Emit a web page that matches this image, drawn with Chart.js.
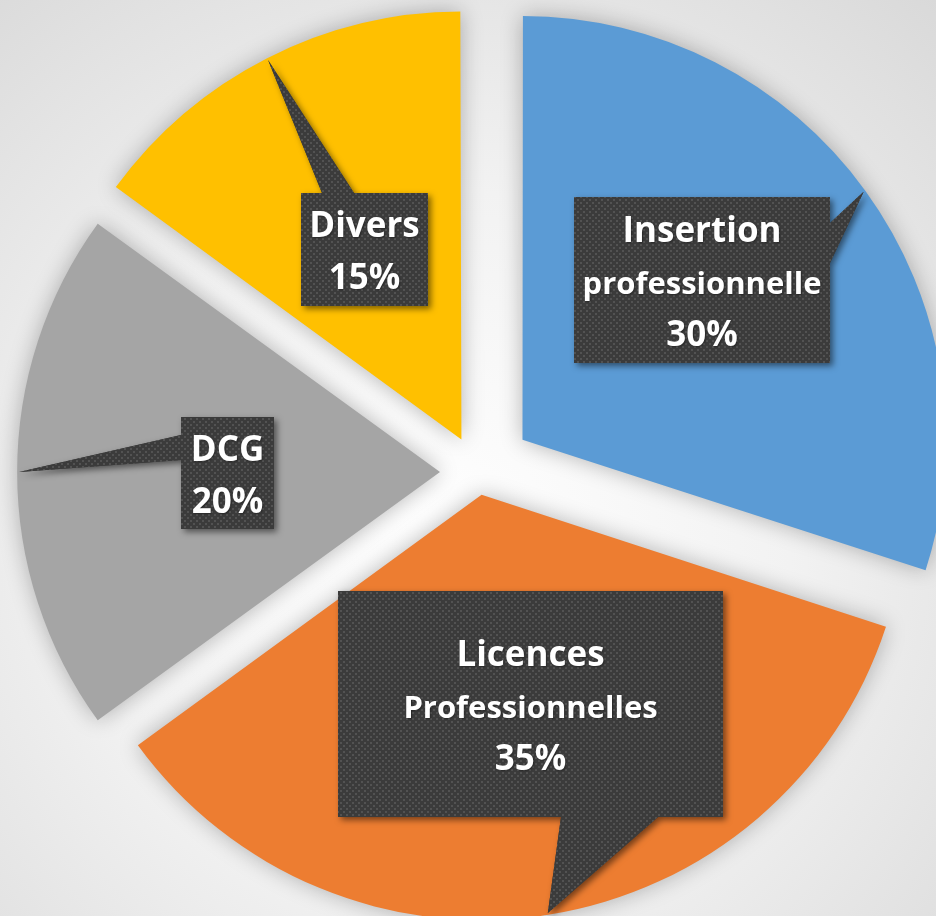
<!DOCTYPE html>
<html>
<head>
<meta charset="utf-8">
<script src="https://cdn.jsdelivr.net/npm/chart.js@4.4.1/dist/chart.umd.min.js"></script>
<style>
  html, body { margin: 0; padding: 0; background: #ececec; }
  #wrap { width: 936px; height: 916px; position: relative; }
  canvas { display: block; }
</style>
</head>
<body>
<div id="wrap"><canvas id="c" width="936" height="916"></canvas></div>
<script>
// ---- data ----
const categories = ['Insertion professionnelle', 'Licences Professionnelles', 'DCG', 'Divers'];
const labelLines = [['Insertion', 'professionnelle'], ['Licences', 'Professionnelles'], ['DCG'], ['Divers']];
const values = [30, 35, 20, 15];

// ---- styles / layout ----
const sliceColors = ['#5B9BD5', '#ED7D31', '#A5A5A5', '#FFC000'];
const sliceOffsets = [220, 92, 152, 146];   // Chart.js offset (translation = offset/4)
const callouts = [
  { x: 574, y: 197, w: 256, h: 166, side: 'right',  b0: 223, b1: 263 },
  { x: 338, y: 591, w: 385, h: 226, side: 'bottom', b0: 561, b1: 658 },
  { x: 181, y: 417, w: 93,  h: 112, side: 'left',   b0: 435, b1: 460 },
  { x: 301, y: 193, w: 127, h: 113, side: 'top',    b0: 322, b1: 354 }
];
const FONT = '"Open Sans", "Liberation Sans", sans-serif';

function makePattern(ctx) {
  const t = document.createElement('canvas');
  t.width = 6; t.height = 6;
  const g = t.getContext('2d');
  g.fillStyle = '#3b3b3b';
  g.fillRect(0, 0, 6, 6);
  g.fillStyle = '#525252';
  g.fillRect(1, 1, 2, 2);
  g.fillRect(4, 4, 2, 2);
  return ctx.createPattern(t, 'repeat');
}

const bgPlugin = {
  id: 'bg',
  beforeDraw(chart) {
    const ctx = chart.ctx;
    ctx.save();
    const g = ctx.createRadialGradient(440, 540, 0, 440, 540, 780);
    g.addColorStop(0, '#ffffff');
    g.addColorStop(0.45, '#f2f2f2');
    g.addColorStop(1, '#d6d6d6');
    ctx.fillStyle = g;
    ctx.fillRect(0, 0, chart.width, chart.height);
    ctx.restore();
  },
  beforeDatasetsDraw(chart) {
    const ctx = chart.ctx;
    ctx.save();
    ctx.shadowColor = 'rgba(0,0,0,0.28)';
    ctx.shadowBlur = 22;
  },
  afterDatasetsDraw(chart) {
    chart.ctx.restore();
  }
};

const calloutPlugin = {
  id: 'callouts',
  afterDraw(chart) {
    const ctx = chart.ctx;
    const meta = chart.getDatasetMeta(0);
    const total = values.reduce((a, b) => a + b, 0);
    const pattern = makePattern(ctx);
    meta.data.forEach((arc, i) => {
      const p = arc.getProps(['x', 'y', 'startAngle', 'endAngle', 'outerRadius', 'circumference'], true);
      const off = (arc.options.offset || 0) / 4;
      const half = (p.startAngle + p.endAngle) / 2;
      const fix = 1 - Math.sin(Math.min(Math.PI, p.circumference || 0));
      const r = p.outerRadius + off * fix + off - 2;
      const tx = p.x + Math.cos(half) * r;
      const ty = p.y + Math.sin(half) * r;
      const c = callouts[i];
      const L = c.x, T = c.y, R = c.x + c.w, B = c.y + c.h;
      ctx.save();
      ctx.beginPath();
      ctx.moveTo(L, T);
      if (c.side === 'top') { ctx.lineTo(c.b0, T); ctx.lineTo(tx, ty); ctx.lineTo(c.b1, T); }
      ctx.lineTo(R, T);
      if (c.side === 'right') { ctx.lineTo(R, c.b0); ctx.lineTo(tx, ty); ctx.lineTo(R, c.b1); }
      ctx.lineTo(R, B);
      if (c.side === 'bottom') { ctx.lineTo(c.b1, B); ctx.lineTo(tx, ty); ctx.lineTo(c.b0, B); }
      ctx.lineTo(L, B);
      if (c.side === 'left') { ctx.lineTo(L, c.b1); ctx.lineTo(tx, ty); ctx.lineTo(L, c.b0); }
      ctx.closePath();
      ctx.shadowColor = 'rgba(0,0,0,0.5)';
      ctx.shadowBlur = 6;
      ctx.shadowOffsetX = 3;
      ctx.shadowOffsetY = 3;
      ctx.fillStyle = '#3b3b3b';
      ctx.fill();
      ctx.shadowColor = 'transparent';
      ctx.fillStyle = pattern;
      ctx.fill();

      // text
      const lines = labelLines[i].slice();
      lines.push(Math.round(values[i] / total * 100) + '%');
      const n = lines.length;
      const cx = L + c.w / 2;
      const cy = T + c.h / 2 + 1;
      ctx.fillStyle = '#ffffff';
      ctx.textAlign = 'center';
      ctx.textBaseline = 'alphabetic';
      ctx.shadowColor = 'rgba(0,0,0,0.35)';
      ctx.shadowBlur = 2;
      ctx.shadowOffsetX = 1;
      ctx.shadowOffsetY = 1;
      lines.forEach((s, k) => {
        const small = (n === 3 && k === 1);
        ctx.font = 'bold ' + (small ? 31 : 35) + 'px ' + FONT;
        ctx.fillText(s, cx, cy + (k - (n - 1) / 2) * 52 + 12.5);
      });
      ctx.restore();
    });
  }
};

new Chart(document.getElementById('c'), {
  type: 'pie',
  data: {
    labels: categories,
    datasets: [{
      data: values,
      backgroundColor: sliceColors,
      borderWidth: 0,
      offset: sliceOffsets,
      hoverOffset: 0,
      clip: false
    }]
  },
  options: {
    responsive: false,
    devicePixelRatio: 1,
    animation: false,
    radius: 421,
    layout: { padding: { left: 20, top: 28, right: 0, bottom: 0 } },
    plugins: {
      legend: { display: false },
      tooltip: { enabled: false }
    },
    events: []
  },
  plugins: [bgPlugin, calloutPlugin]
});
</script>
</body>
</html>
